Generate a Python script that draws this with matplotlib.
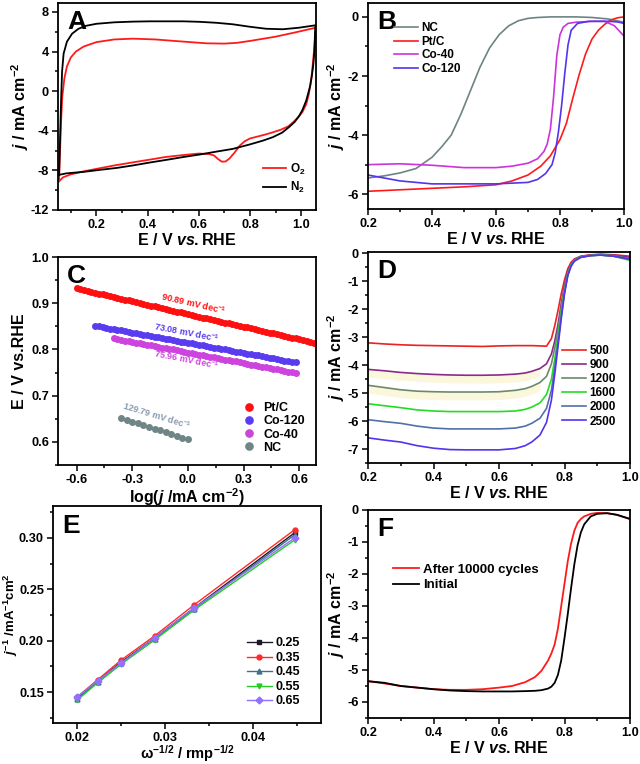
import numpy as np
import matplotlib
matplotlib.use("Agg")
import matplotlib.pyplot as plt
from matplotlib.ticker import MultipleLocator, FormatStrFormatter

plt.rcParams['font.family'] = ['Liberation Sans', 'DejaVu Sans']
plt.rcParams['font.weight'] = 'bold'
plt.rcParams['axes.labelweight'] = 'bold'
plt.rcParams['axes.unicode_minus'] = False
plt.rcParams['mathtext.fontset'] = 'custom'
plt.rcParams['mathtext.rm'] = 'Liberation Sans:bold'
plt.rcParams['mathtext.bf'] = 'Liberation Sans:bold'
plt.rcParams['mathtext.it'] = 'Liberation Sans:italic:bold'
plt.rcParams['mathtext.sf'] = 'Liberation Sans:bold'

# ---- A: CV in O2 / N2 ----
a_n2_e = [0.054, 0.058, 0.062, 0.066, 0.072, 0.085, 0.105, 0.13, 0.16, 0.2, 0.27, 0.343,
          0.41, 0.473, 0.54, 0.603, 0.67, 0.733, 0.8, 0.863, 0.928, 0.99, 1.03, 1.056,
          1.054, 1.052, 1.048, 1.043, 1.035, 1.02, 1.005, 0.993, 0.975, 0.954, 0.925, 0.889,
          0.85, 0.798, 0.733, 0.67, 0.603, 0.54, 0.473, 0.41, 0.343, 0.28, 0.213, 0.15,
          0.083, 0.054]
a_n2_j = [-8.45, -5.0, -1.0, 2.0, 3.8, 5.0, 5.8, 6.3, 6.6, 6.8, 6.95, 7.02,
          7.05, 7.05, 7.05, 7.0, 6.9, 6.75, 6.5, 6.3, 6.25, 6.4, 6.55, 6.65,
          5.8, 4.1, 2.8, 1.76, 0.5, -0.94, -1.9, -2.46, -3.1, -3.6, -4.2, -4.65,
          -5.0, -5.39, -5.83, -6.1, -6.4, -6.65, -6.94, -7.2, -7.5, -7.75, -7.95, -8.15,
          -8.3, -8.45]
a_o2_e = [0.054, 0.058, 0.062, 0.067, 0.075, 0.085, 0.1, 0.12, 0.15, 0.2, 0.27, 0.343,
          0.43, 0.53, 0.63, 0.7, 0.75, 0.8, 0.9, 0.98, 1.056,
          1.054, 1.05, 1.045, 1.04, 1.03, 1.02, 1.005, 0.99, 0.97, 0.95, 0.92, 0.89,
          0.86, 0.83, 0.8, 0.78, 0.76, 0.74, 0.72, 0.705, 0.69, 0.675, 0.66, 0.64, 0.6,
          0.54, 0.47, 0.4, 0.34, 0.27, 0.2, 0.15, 0.1, 0.07, 0.054]
a_o2_j = [-9.1, -6.0, -3.0, -0.5, 1.3, 2.5, 3.4, 4.0, 4.5, 4.95, 5.22, 5.3,
          5.22, 5.02, 4.83, 4.8, 4.88, 5.07, 5.5, 5.95, 6.4,
          5.3, 4.0, 2.6, 1.3, -0.3, -1.3, -2.1, -2.6, -3.1, -3.55, -3.9, -4.15,
          -4.38, -4.58, -4.78, -5.05, -5.5, -6.2, -6.8, -7.1, -7.12, -6.85, -6.5, -6.35, -6.3,
          -6.45, -6.65, -6.95, -7.2, -7.5, -7.85, -8.1, -8.4, -8.7, -9.1]

# ---- B: LSV of catalysts ----
b_nc_e = [0.2, 0.25, 0.3, 0.35, 0.4, 0.43, 0.46, 0.49, 0.52, 0.55, 0.58, 0.61, 0.64,
          0.67, 0.7, 0.73, 0.77, 0.8, 0.85, 0.9, 0.95, 1.0]
b_nc_j = [-5.45, -5.38, -5.28, -5.13, -4.75, -4.4, -4.0, -3.3, -2.5, -1.7, -1.05, -0.6,
          -0.3, -0.13, -0.05, -0.02, 0.0, 0.0, 0.0, -0.02, -0.07, -0.18]
b_pt_e = [0.2, 0.3, 0.4, 0.5, 0.6, 0.65, 0.7, 0.74, 0.77, 0.8, 0.82, 0.84, 0.86, 0.88,
          0.9, 0.92, 0.94, 0.96, 0.98, 1.0]
b_pt_j = [-5.9, -5.85, -5.8, -5.75, -5.68, -5.55, -5.35, -5.05, -4.7, -4.15, -3.6, -2.75,
          -1.95, -1.25, -0.75, -0.45, -0.25, -0.1, -0.03, 0.0]
b_co40_e = [0.2, 0.3, 0.4, 0.5, 0.6, 0.65, 0.7, 0.73, 0.75, 0.76, 0.77, 0.78, 0.79, 0.80,
            0.81, 0.825, 0.85, 0.9, 0.94, 0.97, 1.0]
b_co40_j = [-5.0, -4.97, -5.02, -5.1, -5.1, -5.05, -4.95, -4.8, -4.55, -4.3, -3.8, -2.7,
            -1.3, -0.6, -0.35, -0.22, -0.18, -0.15, -0.15, -0.3, -0.65]
b_co120_e = [0.2, 0.25, 0.3, 0.35, 0.4, 0.5, 0.6, 0.7, 0.73, 0.755, 0.775, 0.785, 0.795,
             0.805, 0.815, 0.825, 0.835, 0.855, 0.89, 0.95, 0.98, 1.0]
b_co120_j = [-5.35, -5.45, -5.55, -5.6, -5.65, -5.65, -5.65, -5.6, -5.5, -5.3, -5.0, -4.6,
             -3.9, -3.0, -1.9, -0.95, -0.45, -0.22, -0.15, -0.15, -0.17, -0.22]

# ---- C: Tafel plots ----
c_pt_x = [-0.60, -0.58, -0.56, -0.54, -0.52, -0.50, -0.48, -0.46, -0.44, -0.42, -0.40,
          -0.38, -0.36, -0.34, -0.32, -0.30, -0.28, -0.26, -0.24, -0.22, -0.20, -0.18,
          -0.16, -0.14, -0.12, -0.10, -0.08, -0.06, -0.04, -0.02, 0.00, 0.02, 0.04, 0.06,
          0.08, 0.10, 0.12, 0.14, 0.16, 0.18, 0.20, 0.22, 0.24, 0.26, 0.28, 0.30, 0.32,
          0.34, 0.36, 0.38, 0.40, 0.42, 0.44, 0.46, 0.48, 0.50, 0.52, 0.54, 0.56, 0.58,
          0.60, 0.62, 0.64, 0.66, 0.68]
c_pt_y = [0.932, 0.930, 0.928, 0.927, 0.925, 0.923, 0.921, 0.919, 0.917, 0.915, 0.914,
          0.912, 0.910, 0.908, 0.906, 0.904, 0.903, 0.901, 0.899, 0.897, 0.895, 0.894,
          0.892, 0.890, 0.888, 0.886, 0.884, 0.882, 0.881, 0.879, 0.877, 0.875, 0.873, 0.871,
          0.869, 0.868, 0.866, 0.864, 0.862, 0.860, 0.858, 0.857, 0.855, 0.853, 0.851, 0.849,
          0.848, 0.846, 0.844, 0.842, 0.840, 0.838, 0.836, 0.835, 0.833, 0.831, 0.829, 0.827,
          0.825, 0.824, 0.822, 0.820, 0.818, 0.816, 0.814]
c_co120_x = [-0.50, -0.48, -0.46, -0.44, -0.42, -0.40, -0.38, -0.36, -0.34, -0.32, -0.30,
             -0.28, -0.26, -0.24, -0.22, -0.20, -0.18, -0.16, -0.14, -0.12, -0.10, -0.08,
             -0.06, -0.04, -0.02, 0.00, 0.02, 0.04, 0.06, 0.08, 0.10, 0.12, 0.14, 0.16,
             0.18, 0.20, 0.22, 0.24, 0.26, 0.28, 0.30, 0.32, 0.34, 0.36, 0.38, 0.40, 0.42,
             0.44, 0.46, 0.48, 0.50, 0.52, 0.54, 0.56, 0.58]
c_co120_y = [0.851, 0.850, 0.848, 0.847, 0.845, 0.844, 0.842, 0.841, 0.839, 0.838, 0.836,
             0.835, 0.833, 0.832, 0.831, 0.829, 0.828, 0.826, 0.825, 0.823, 0.822, 0.820,
             0.819, 0.817, 0.816, 0.814, 0.813, 0.812, 0.810, 0.809, 0.807, 0.806, 0.804, 0.803,
             0.801, 0.800, 0.798, 0.797, 0.795, 0.794, 0.792, 0.791, 0.790, 0.788, 0.787, 0.785,
             0.784, 0.782, 0.781, 0.779, 0.778, 0.776, 0.775, 0.773, 0.772]
c_co40_x = [-0.40, -0.38, -0.36, -0.34, -0.32, -0.30, -0.28, -0.26, -0.24, -0.22, -0.20,
            -0.18, -0.16, -0.14, -0.12, -0.10, -0.08, -0.06, -0.04, -0.02, 0.00, 0.02,
            0.04, 0.06, 0.08, 0.10, 0.12, 0.14, 0.16, 0.18, 0.20, 0.22, 0.24, 0.26, 0.28,
            0.30, 0.32, 0.34, 0.36, 0.38, 0.40, 0.42, 0.44, 0.46, 0.48, 0.50, 0.52, 0.54,
            0.56, 0.58]
c_co40_y = [0.824, 0.822, 0.821, 0.819, 0.818, 0.816, 0.815, 0.813, 0.812, 0.810, 0.809,
            0.807, 0.806, 0.804, 0.803, 0.801, 0.800, 0.798, 0.796, 0.795, 0.793, 0.792,
            0.790, 0.789, 0.787, 0.786, 0.784, 0.783, 0.781, 0.780, 0.778, 0.777, 0.775, 0.774,
            0.772, 0.770, 0.769, 0.767, 0.766, 0.764, 0.763, 0.761, 0.760, 0.758, 0.757, 0.755,
            0.754, 0.752, 0.751, 0.749]
c_nc_x = [-0.36, -0.33, -0.30, -0.27, -0.24, -0.21, -0.18, -0.15, -0.12, -0.09, -0.06, -0.03, 0.00]
c_nc_y = [0.651, 0.647, 0.643, 0.640, 0.636, 0.632, 0.628, 0.625, 0.621, 0.617, 0.613, 0.609, 0.606]
c_slopes = ['90.89', '73.08', '75.96', '129.79']

# ---- D: LSV at different rotation rates ----
d_e = [0.20, 0.25, 0.30, 0.35, 0.40, 0.45, 0.50, 0.55, 0.60, 0.65, 0.68, 0.70, 0.725, 0.745,
       0.76, 0.77, 0.78, 0.79, 0.80, 0.81, 0.82, 0.83, 0.85, 0.88, 0.91, 0.95, 1.00]
d_500 = [-3.20, -3.24, -3.27, -3.29, -3.30, -3.31, -3.32, -3.33, -3.31, -3.30, -3.30, -3.30,
         -3.31, -3.32, -3.05, -2.60, -2.05, -1.45, -0.95, -0.55, -0.32, -0.20, -0.10, -0.05,
         -0.03, -0.05, -0.10]
d_900 = [-4.15, -4.20, -4.26, -4.30, -4.33, -4.35, -4.36, -4.36, -4.35, -4.32, -4.28, -4.22,
         -4.12, -3.95, -3.60, -3.15, -2.55, -1.80, -1.15, -0.65, -0.38, -0.22, -0.11, -0.06,
         -0.04, -0.06, -0.14]
d_1200 = [-4.72, -4.80, -4.88, -4.93, -4.95, -4.96, -4.96, -4.96, -4.95, -4.90, -4.84, -4.76,
          -4.62, -4.40, -3.95, -3.40, -2.75, -1.95, -1.25, -0.70, -0.40, -0.24, -0.12, -0.07,
          -0.05, -0.08, -0.20]
d_1600 = [-5.38, -5.45, -5.52, -5.60, -5.64, -5.66, -5.66, -5.66, -5.66, -5.64, -5.58, -5.50,
          -5.35, -5.05, -4.50, -3.80, -3.00, -2.10, -1.35, -0.75, -0.43, -0.26, -0.13, -0.08,
          -0.06, -0.10, -0.25]
d_2000 = [-5.95, -6.02, -6.08, -6.18, -6.25, -6.28, -6.28, -6.28, -6.28, -6.25, -6.18, -6.08,
          -5.90, -5.55, -4.90, -4.10, -3.20, -2.25, -1.40, -0.78, -0.45, -0.27, -0.14, -0.08,
          -0.06, -0.10, -0.22]
d_2500 = [-6.60, -6.68, -6.75, -6.88, -6.97, -7.02, -7.03, -7.03, -7.03, -6.98, -6.88, -6.75,
          -6.50, -6.05, -5.25, -4.35, -3.35, -2.35, -1.45, -0.80, -0.46, -0.28, -0.14, -0.08,
          -0.06, -0.10, -0.20]
d_rpm = ['500', '900', '1200', '1600', '2000', '2500']

# ---- E: K-L plots ----
e_w = [0.02, 0.02236, 0.025, 0.02887, 0.03333, 0.04472]
e_025 = [0.144, 0.161, 0.179, 0.203, 0.232, 0.305]
e_035 = [0.145, 0.162, 0.181, 0.205, 0.235, 0.308]
e_045 = [0.143, 0.160, 0.178, 0.202, 0.231, 0.303]
e_055 = [0.142, 0.159, 0.177, 0.201, 0.230, 0.298]
e_065 = [0.145, 0.161, 0.178, 0.203, 0.232, 0.300]
e_pot = ['0.25', '0.35', '0.45', '0.55', '0.65']

# ---- F: stability ----
f_e = [0.20, 0.25, 0.30, 0.35, 0.40, 0.45, 0.50, 0.55, 0.60, 0.64, 0.68, 0.71, 0.73, 0.75,
       0.76, 0.77, 0.78, 0.79, 0.80, 0.81, 0.82, 0.83, 0.84, 0.85, 0.86, 0.88, 0.90, 0.93,
       0.96, 1.00]
f_after = [-5.35, -5.42, -5.50, -5.55, -5.60, -5.62, -5.62, -5.60, -5.55, -5.50, -5.38, -5.22,
           -5.02, -4.70, -4.48, -4.20, -3.70, -3.00, -2.30, -1.60, -1.05, -0.65, -0.40, -0.28,
           -0.20, -0.12, -0.09, -0.10, -0.15, -0.28]
f_init = [-5.35, -5.40, -5.50, -5.55, -5.60, -5.64, -5.66, -5.67, -5.67, -5.67, -5.66, -5.65,
          -5.63, -5.58, -5.52, -5.40, -5.15, -4.70, -4.00, -3.25, -2.45, -1.70, -1.10, -0.70,
          -0.45, -0.20, -0.12, -0.10, -0.15, -0.28]

W, H = 640, 764
fig = plt.figure(figsize=(W / 100, H / 100), dpi=100)
LFS = 11.5


def make_ax(l, t, r, b):
    return fig.add_axes([l / W, 1 - b / H, (r - l) / W, (b - t) / H])


def style(ax, letter, xmaj, xmin, ymaj, ymin):
    for s in ax.spines.values():
        s.set_linewidth(1.3)
    ax.xaxis.set_major_locator(MultipleLocator(xmaj))
    ax.xaxis.set_minor_locator(MultipleLocator(xmin))
    ax.yaxis.set_major_locator(MultipleLocator(ymaj))
    ax.yaxis.set_minor_locator(MultipleLocator(ymin))
    ax.tick_params(which='both', direction='out', width=1.1, labelsize=9.2, top=False,
                   right=False, pad=2.5)
    ax.tick_params(which='major', length=4)
    ax.tick_params(which='minor', length=2.5)
    ax.text(0.035, 0.965, letter, transform=ax.transAxes, ha='left', va='top',
            fontsize=19, fontweight='heavy')


jlabel = r'$j$ / mA cm$^{-2}$'
elabel = r'E / V $\mathit{vs.}$RHE'

# A
ax = make_ax(58, 3, 316, 210)
ax.plot(a_o2_e, a_o2_j, color='#ff1a1a', lw=1.3, label=r'O$_2$')
ax.plot(a_n2_e, a_n2_j, color='black', lw=1.3, label=r'N$_2$')
ax.set_xlim(0.05, 1.058)
ax.set_ylim(-12, 8.9)
style(ax, 'A', 0.2, 0.1, 4, 2)
ax.xaxis.set_major_formatter(FormatStrFormatter('%.1f'))
ax.set_xlabel(elabel, fontsize=LFS, labelpad=1)
ax.set_ylabel(jlabel, fontsize=LFS, labelpad=0)
ax.legend(loc='lower right', bbox_to_anchor=(1.0, 0.02), frameon=False, fontsize=8.5,
          handlelength=2.0, labelspacing=0.3, handletextpad=0.3)

# B
ax = make_ax(368, 3, 624, 209)
ax.plot(b_nc_e, b_nc_j, color='#6e8484', lw=1.2, label='NC')
ax.plot(b_pt_e, b_pt_j, color='#ff1a1a', lw=1.2, label='Pt/C')
ax.plot(b_co40_e, b_co40_j, color='#cc33dd', lw=1.2, label='Co-40')
ax.plot(b_co120_e, b_co120_j, color='#5533ee', lw=1.2, label='Co-120')
ax.set_xlim(0.2, 1.0)
ax.set_ylim(-6.5, 0.47)
style(ax, 'B', 0.2, 0.1, 2, 1)
ax.set_xlabel(elabel, fontsize=LFS, labelpad=1)
ax.set_ylabel(jlabel, fontsize=LFS, labelpad=0)
ax.legend(loc='upper left', bbox_to_anchor=(0.06, 0.96), frameon=False, fontsize=8.5,
          handlelength=2.0, labelspacing=0.15, handletextpad=0.3)

# C
ax = make_ax(58, 257, 316, 465)
ax.plot(c_pt_x, c_pt_y, 'o', color='#ff1010', ms=4.0, label='Pt/C')
ax.plot(c_co120_x, c_co120_y, 'o', color='#5a3cf0', ms=4.0, label='Co-120')
ax.plot(c_co40_x, c_co40_y, 'o', color='#cc44dd', ms=4.0, label='Co-40')
ax.plot(c_nc_x, c_nc_y, 'o', color='#708585', ms=4.0, label='NC')
ax.set_xlim(-0.7, 0.69)
ax.set_ylim(0.55, 1.0)
style(ax, 'C', 0.3, 0.15, 0.1, 0.05)
ax.xaxis.set_major_formatter(FormatStrFormatter('%.1f'))
ax.yaxis.set_major_formatter(FormatStrFormatter('%.1f'))
ax.text(0.03, 0.899, c_slopes[0] + r' mV dec$^{-1}$', color='#ff1010', fontsize=6.5,
        rotation=-13, ha='center', va='center')
ax.text(-0.005, 0.837, c_slopes[1] + r' mV dec$^{-1}$', color='#5a3cf0', fontsize=6.5,
        rotation=-11, ha='center', va='center')
ax.text(-0.005, 0.778, c_slopes[2] + r' mV dec$^{-1}$', color='#cc44dd', fontsize=6.5,
        rotation=-11, ha='center', va='center')
ax.text(-0.168, 0.657, c_slopes[3] + r' mV dec$^{-1}$', color='#8898b0', fontsize=6.5,
        rotation=-17, ha='center', va='center')
ax.set_xlabel(r'log($j$ /mA cm$^{-2}$)', fontsize=LFS, labelpad=0)
ax.set_ylabel('E / V vs.RHE', fontsize=LFS, labelpad=3)
ax.legend(loc='lower right', bbox_to_anchor=(1.0, 0.0), frameon=False, fontsize=9,
          handlelength=1.0, labelspacing=0.1, handletextpad=0.6, markerscale=1.3)

# D
ax = make_ax(368, 252, 630, 463)
d_cols = ['#ee2020', '#8a2a8a', '#6a8a6a', '#22dd22', '#5070a8', '#5533ee']
d_sets = [d_500, d_900, d_1200, d_1600, d_2000, d_2500]
for ys in (d_900, d_1200):
    lo = [v - 0.28 for v in ys[:13]]
    ax.fill_between(d_e[:13], ys[:13], lo, color='#fbf7dc', lw=0)
for ys, c, lab in zip(d_sets, d_cols, d_rpm):
    ax.plot(d_e, ys, color=c, lw=1.2, label=lab)
ax.set_xlim(0.2, 1.0)
ax.set_ylim(-7.5, 0.05)
style(ax, 'D', 0.2, 0.1, 1, 0.5)
ax.set_xlabel(elabel, fontsize=LFS, labelpad=1)
ax.set_ylabel(jlabel, fontsize=LFS, labelpad=0)
ax.legend(loc='upper left', bbox_to_anchor=(0.7, 0.61), frameon=False, fontsize=8.5,
          handlelength=2.0, labelspacing=0.18, handletextpad=0.3)

# E
ax = make_ax(53, 506, 321, 723)
e_sets = [e_025, e_035, e_045, e_055, e_065]
e_cols = ['#1a1a2a', '#ff2a2a', '#3f6f90', '#22cc22', '#9370ff']
e_mk = ['s', 'o', '^', 'v', 'D']
for ys, c, m, lab in zip(e_sets, e_cols, e_mk, e_pot):
    ax.plot(e_w, ys, color=c, marker=m, ms=3.5, lw=1.0, label=lab)
ax.set_xlim(0.0173, 0.0477)
ax.set_ylim(0.12, 0.331)
style(ax, 'E', 0.01, 0.005, 0.05, 0.025)
ax.xaxis.set_major_formatter(FormatStrFormatter('%.2f'))
ax.yaxis.set_major_formatter(FormatStrFormatter('%.2f'))
ax.set_xlabel(r'ω$^{-1/2}$ / rmp$^{-1/2}$', fontsize=10.5, labelpad=-1)
ax.set_ylabel(r'$j^{-1}$ /mA$^{-1}$cm$^{2}$', fontsize=9.5, labelpad=-0.5)
ax.legend(loc='lower right', bbox_to_anchor=(0.965, 0.02), frameon=False, fontsize=9,
          handlelength=2.0, labelspacing=0.2, handletextpad=0.3)

# F
ax = make_ax(368, 510, 630, 718)
ax.plot(f_e, f_after, color='#ff1a1a', lw=1.3, label='After 10000 cycles')
ax.plot(f_e, f_init, color='black', lw=1.3, label='Initial')
ax.set_xlim(0.2, 1.0)
ax.set_ylim(-6.5, 0.0)
style(ax, 'F', 0.2, 0.1, 1, 0.5)
ax.set_xlabel(elabel, fontsize=LFS, labelpad=1)
ax.set_ylabel(jlabel, fontsize=LFS, labelpad=0)
ax.legend(loc='upper left', bbox_to_anchor=(0.05, 0.8), frameon=False, fontsize=9.5,
          handlelength=2.0, labelspacing=0.25, handletextpad=0.3)

fig.savefig('out.png', dpi=100)
